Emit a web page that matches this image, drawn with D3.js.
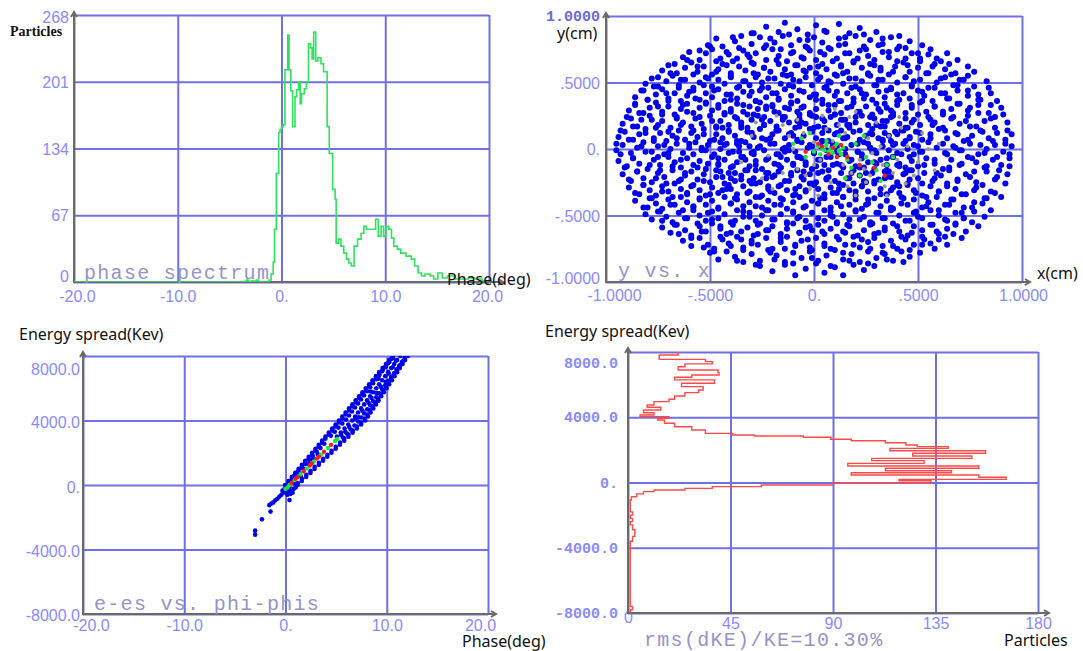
<!DOCTYPE html>
<html lang="en">
<head>
<meta charset="UTF-8">
<title>Beam plots</title>
<script src="https://d3js.org/d3.v7.min.js"></script>
<style>
  body { margin: 0; background: #fff; }
  svg { display: block; }
</style>
</head>
<body>
<svg width="1083" height="651"></svg>
<script>
// ---------- data ----------

// phase spectrum: [phase deg, particles]
const phaseSpectrum = [[-20,0],[-3.4,2],[-3.2,0],[-3.0,1],[-2.4,2],[-2.2,0],[-1.2,2],[-1.0,8],[-0.8,20],[-0.67,53],
  [-0.5,109],[-0.27,150],[-0.15,153],[0,156],[0.17,158],[0.33,213],[0.6,248],[0.73,213],[0.9,192],[1.07,156],
  [1.3,186],[1.45,193],[1.65,201],[1.8,179],[1.93,189],[2.2,194],[2.4,201],[2.6,239],[2.8,235],[2.95,224],
  [3.1,251],[3.3,222],[3.5,225],[3.8,219],[4.05,211],[4.4,156],[4.6,129],[4.93,93],[5.17,83],[5.27,39],
  [5.5,43],[5.73,36],[6.0,29],[6.27,23],[6.5,19],[6.73,16],[7.0,36],[7.33,43],[7.67,49],[7.93,56],
  [8.17,53],[8.5,53],[8.83,53],[9.07,63],[9.33,46],[9.6,56],[9.83,46],[10.07,56],[10.33,53],[10.6,44],
  [10.83,36],[11.17,33],[11.5,29],[12.0,26],[12.5,23],[12.83,16],[13.17,9],[13.5,6],[13.83,8],[14.33,6],
  [14.67,3],[15.07,9],[15.5,4],[16.0,6],[16.67,3],[17.33,3],[18.0,4],[18.67,3],[19.33,1],[20,0]];

// y vs x particles, flat x,y pairs in 1/100 cm
const yxBlue = [
  -29,87,-23,92,-17,88,-14,95,-8,90,-3,86,1,93,5,89,12,94,17,87,22,91,30,88,
  -51,78,-47,83,-44,77,-38,81,-35,85,-30,79,-26,84,-24,76,-19,80,-15,85,-11,78,-7,82,-4,77,0,84,4,80,7,76,12,83,15,79,20,85,24,77,27,82,33,79,37,84,41,77,46,81,52,78,
  -63,69,-60,73,-55,67,-52,72,-49,75,-45,68,-41,71,-39,66,-34,74,-31,69,-28,72,-23,67,-20,75,-17,70,-13,66,-10,73,-6,69,-2,74,1,67,5,71,8,75,11,68,15,72,19,66,22,74,26,70,29,67,33,73,36,69,40,75,44,68,47,72,51,66,55,71,59,68,64,72,
  -73,59,-70,63,-66,57,-62,61,-59,65,-56,58,-53,62,-49,56,-46,60,-44,64,-40,57,-36,62,-33,59,-30,65,-27,56,-24,61,-21,58,-17,64,-14,60,-11,56,-8,63,-5,59,-2,61,1,57,4,64,6,60,10,56,13,62,16,58,19,65,23,61,26,57,29,63,32,59,36,56,39,62,43,65,46,58,50,61,54,57,58,64,63,60,68,57,74,62,
  -81,49,-78,53,-75,47,-71,51,-68,55,-65,48,-62,52,-58,46,-55,50,-52,54,-49,47,-46,52,-43,49,-40,55,-37,46,-34,51,-31,48,-28,54,-25,50,-22,46,-19,53,-16,49,-13,55,-10,47,-7,51,-4,54,-1,48,2,52,5,46,8,50,11,55,14,49,17,53,20,47,23,51,27,55,30,48,33,52,37,46,40,50,44,54,47,48,51,52,55,46,59,50,63,54,67,48,72,52,77,47,83,51,
  -86,39,-83,44,-80,37,-76,41,-73,45,-70,38,-67,42,-64,36,-61,40,-58,44,-55,37,-52,42,-49,39,-46,45,-43,36,-40,41,-37,38,-34,43,-31,40,-28,36,-26,44,-23,39,-20,42,-17,37,-14,45,-11,40,-8,36,-5,43,-2,39,1,41,4,37,7,44,10,40,13,36,16,42,19,38,22,45,25,41,28,37,31,43,34,39,37,45,40,36,43,42,46,38,50,44,53,40,57,36,61,42,65,38,69,44,74,40,79,37,85,42,
  -89,29,-86,33,-82,27,-79,31,-76,35,-73,28,-70,32,-67,26,-64,30,-61,34,-58,27,-55,31,-52,35,-49,29,-46,33,-43,26,-40,30,-37,34,-34,28,-31,32,-29,26,-26,35,-23,30,-20,33,-17,27,-14,31,-11,35,-8,28,-5,32,-2,26,1,30,4,34,7,29,10,33,13,27,16,31,19,35,22,28,25,32,28,26,31,30,34,34,37,29,40,33,44,27,47,31,51,35,54,28,58,32,62,26,66,30,70,34,74,29,79,33,84,27,90,31,
  -92,19,-88,23,-85,17,-83,22,-79,25,-75,18,-73,21,-69,16,-66,24,-63,20,-59,17,-57,23,-54,19,-50,25,-47,16,-45,21,-41,18,-38,24,-35,20,-32,16,-30,22,-27,25,-24,18,-21,21,-18,17,-15,24,-12,20,-9,16,-7,23,-4,19,-1,25,2,17,5,21,8,24,11,18,14,22,17,16,20,20,23,25,26,18,29,23,32,17,35,21,38,25,41,19,44,16,48,22,51,18,55,24,58,20,62,16,66,23,70,19,74,25,78,17,82,21,87,24,93,20,
  -94,9,-91,13,-87,7,-84,11,-81,15,-77,8,-74,12,-71,6,-68,10,-65,14,-62,7,-59,12,-56,9,-53,15,-50,6,-47,11,-44,8,-41,14,-38,10,-35,6,-32,13,-29,9,-26,15,-23,7,-20,11,-17,14,-14,8,-11,12,-8,6,-5,10,-2,15,1,8,4,12,7,6,10,11,13,14,16,9,19,13,22,7,25,10,28,15,31,8,34,12,37,6,40,11,43,14,46,9,49,13,52,7,56,11,60,15,64,8,68,12,72,6,76,10,80,14,84,8,88,12,92,7,95,11,
  -95,-1,-92,3,-88,-3,-85,1,-82,5,-78,-2,-75,2,-72,-4,-69,0,-66,4,-63,-3,-60,1,-57,5,-54,-1,-51,3,-48,-4,-45,0,-42,4,-39,-2,-36,2,-33,5,-30,-3,-27,1,-24,-1,-21,4,-18,-4,-15,0,-12,3,-9,-2,-6,5,-3,1,0,-3,3,2,6,-1,9,4,12,-4,15,0,18,3,21,-2,24,5,27,1,30,-3,33,2,36,-1,39,4,42,-4,45,0,48,3,51,-2,55,5,59,1,63,-3,67,2,71,-1,75,4,79,-4,83,0,87,3,91,-2,95,2,
  -94,-9,-90,-13,-87,-7,-84,-11,-80,-15,-77,-8,-74,-12,-70,-6,-67,-10,-64,-14,-61,-7,-58,-12,-55,-9,-52,-15,-49,-6,-46,-11,-43,-8,-40,-14,-37,-10,-34,-6,-31,-13,-28,-9,-25,-15,-22,-7,-19,-11,-16,-14,-13,-8,-10,-12,-7,-6,-4,-10,-1,-15,2,-8,5,-12,8,-6,11,-11,14,-14,17,-9,20,-13,23,-7,26,-10,29,-15,32,-8,35,-12,38,-6,41,-11,44,-14,47,-9,50,-13,54,-7,58,-11,62,-15,66,-8,70,-12,74,-6,78,-10,82,-14,86,-8,90,-12,94,-7,
  -92,-19,-89,-23,-85,-17,-82,-22,-78,-25,-75,-18,-72,-21,-68,-16,-65,-24,-62,-20,-59,-17,-56,-23,-53,-19,-50,-25,-47,-16,-44,-21,-41,-18,-38,-24,-35,-20,-32,-16,-29,-22,-26,-25,-23,-18,-20,-21,-17,-17,-14,-24,-11,-20,-8,-16,-5,-23,-2,-19,1,-25,4,-17,7,-21,10,-24,13,-18,16,-22,19,-16,22,-20,25,-25,28,-18,31,-23,34,-17,37,-21,40,-25,43,-19,46,-16,50,-22,53,-18,57,-24,61,-20,65,-16,69,-23,73,-19,78,-25,83,-17,88,-21,93,-19,
  -89,-29,-86,-33,-82,-27,-79,-31,-76,-35,-73,-28,-70,-32,-67,-26,-64,-30,-61,-34,-58,-27,-55,-31,-52,-35,-49,-29,-46,-33,-43,-26,-40,-30,-37,-34,-34,-28,-31,-32,-28,-26,-25,-35,-22,-30,-19,-33,-16,-27,-13,-31,-10,-35,-7,-28,-4,-32,-1,-26,2,-30,5,-34,8,-29,11,-33,14,-27,17,-31,20,-35,23,-28,26,-32,29,-26,32,-30,35,-34,38,-29,41,-33,45,-27,48,-31,52,-35,56,-28,60,-32,64,-26,68,-30,73,-34,78,-29,85,-32,
  -86,-39,-82,-44,-79,-37,-76,-41,-73,-45,-70,-38,-67,-42,-64,-36,-61,-40,-58,-44,-55,-37,-52,-42,-49,-39,-46,-45,-43,-36,-40,-41,-37,-38,-34,-43,-31,-40,-28,-36,-25,-44,-22,-39,-19,-42,-16,-37,-13,-45,-10,-40,-7,-36,-4,-43,-1,-39,2,-41,5,-37,8,-44,11,-40,14,-36,17,-42,20,-38,23,-45,26,-41,29,-37,32,-43,35,-39,38,-45,42,-36,45,-42,48,-38,52,-44,55,-40,59,-36,63,-42,67,-38,72,-44,77,-40,83,-37,
  -81,-49,-78,-53,-74,-47,-71,-51,-68,-55,-65,-48,-61,-52,-58,-46,-55,-50,-52,-54,-49,-47,-46,-52,-43,-49,-40,-55,-37,-46,-34,-51,-31,-48,-28,-54,-25,-50,-22,-46,-19,-53,-16,-49,-13,-55,-10,-47,-7,-51,-4,-54,-1,-48,2,-52,5,-46,8,-50,11,-55,14,-49,17,-53,20,-47,24,-51,27,-55,30,-48,34,-52,37,-46,41,-50,44,-54,48,-48,52,-52,56,-46,60,-50,64,-54,68,-48,72,-52,77,-47,82,-51,
  -73,-59,-69,-63,-66,-57,-62,-61,-59,-65,-55,-58,-52,-62,-49,-56,-45,-60,-42,-64,-39,-57,-35,-62,-32,-59,-29,-65,-26,-56,-23,-61,-20,-58,-16,-64,-13,-60,-10,-56,-7,-63,-4,-59,-1,-61,2,-57,5,-64,8,-60,11,-56,14,-62,17,-58,21,-65,24,-61,27,-57,31,-63,34,-59,38,-56,41,-62,45,-65,48,-58,52,-61,56,-57,60,-64,64,-60,68,-57,73,-62,
  -63,-69,-59,-73,-55,-67,-51,-72,-48,-75,-44,-68,-41,-71,-37,-66,-34,-74,-30,-69,-27,-72,-23,-67,-20,-75,-16,-70,-13,-66,-9,-73,-6,-69,-2,-74,1,-67,5,-71,8,-75,12,-68,15,-72,19,-66,22,-74,26,-70,29,-67,33,-73,37,-69,40,-75,44,-68,48,-72,52,-66,56,-71,60,-68,64,-72,
  -50,-78,-46,-83,-42,-77,-38,-81,-34,-85,-30,-79,-26,-84,-22,-76,-18,-80,-14,-85,-10,-78,-6,-82,-2,-77,2,-84,6,-80,10,-76,14,-83,18,-79,22,-85,26,-77,30,-82,34,-79,38,-84,42,-77,46,-81,51,-78,
  -26,-88,-20,-92,-14,-87,-9,-95,-4,-90,1,-86,5,-93,10,-89,14,-95,19,-87,24,-91,29,-88,
  -45,5,-38,-18,-30,12,-22,-28,-15,22,-8,-6,0,16,6,-22,14,8,22,-14,30,18,38,-6,45,-26,-40,28,-33,-8,-26,2,-19,-20,-12,30,-4,-12,4,6,12,-30,20,24,28,-2,36,10,44,-18,-42,-30,-35,18,-28,-16,-21,8,-14,-2,-6,20,2,-18,10,26,18,-8,26,4,34,-22,42,14,48,-4,-46,-12,-37,4,-24,24,-17,-12,-10,10,-2,-26,7,14,15,-4,24,-24,32,28,40,-12,47,20,-44,16,-31,-24,-18,14,-9,-30,-1,2,9,-12,17,18,25,-18,33,6,41,-28,-36,-2,-27,30,-16,-6,-7,26,3,-8,13,22,21,-2,29,-10,37,24,46,8,-40,-22,-29,-4,-20,32,-11,-18,1,24,11,2,19,-26,27,12,35,-16,43,4,
  -39,84,-30,87,-21,83,-12,86,-3,82,6,88,15,84,24,86,33,83,41,85,
  -55,74,-50,77,-42,73,-36,76,-32,71,-23,78,-16,75,-11,72,-3,76,3,73,12,78,17,72,25,75,31,78,36,73,44,76,50,72,56,75,
  -67,64,-61,67,-56,62,-47,66,-42,63,-37,68,-29,64,-24,61,-18,67,-9,63,-5,68,2,62,9,66,13,63,21,68,27,64,32,61,40,66,45,63,51,68,57,62,61,66,65,64,69,67,
  -75,54,-69,57,-64,52,-58,56,-51,53,-47,58,-40,54,-33,51,-29,57,-22,53,-15,56,-10,52,-4,58,3,54,7,51,14,57,20,53,26,56,31,52,38,58,44,54,48,51,55,57,61,53,66,56,70,52,74,55,77,58,
  -82,44,-77,47,-71,42,-65,46,-60,43,-53,48,-48,44,-42,41,-36,47,-30,43,-25,46,-18,42,-12,48,-7,44,0,41,6,47,11,43,18,46,23,42,29,48,35,44,40,41,47,47,52,43,58,46,63,42,69,48,74,44,79,41,84,46,
  -86,34,-80,37,-75,32,-70,36,-63,33,-57,38,-52,34,-46,31,-40,37,-34,33,-28,36,-23,32,-17,38,-11,34,-6,31,1,37,7,33,12,36,18,32,24,38,30,34,35,31,41,37,47,33,52,36,58,32,64,38,69,34,75,31,80,37,85,33,88,36,
  -90,24,-84,27,-78,22,-73,26,-66,23,-61,28,-55,24,-49,21,-43,27,-37,23,-32,26,-25,22,-19,28,-14,24,-8,21,-2,27,4,23,10,26,15,22,21,28,27,24,33,21,38,27,44,23,50,26,56,22,62,28,67,24,73,21,79,27,85,23,91,26,
  -93,14,-87,17,-81,12,-76,16,-70,13,-64,18,-58,14,-53,11,-47,17,-41,13,-35,16,-30,12,-24,18,-18,14,-12,11,-7,17,-1,13,5,16,11,12,16,18,22,14,28,11,34,17,39,13,45,16,51,12,57,18,63,14,69,11,75,17,81,13,87,16,93,14,
  -95,4,-89,7,-83,2,-77,6,-72,3,-66,8,-60,4,-54,1,-48,7,-43,3,-37,6,-31,2,-25,8,-19,4,-14,1,-8,7,-2,3,4,6,9,2,15,8,21,4,27,1,33,7,38,3,44,6,50,2,56,8,62,4,68,1,74,7,80,3,86,6,92,4,
  -93,-4,-87,-7,-81,-2,-75,-6,-70,-3,-64,-8,-58,-4,-52,-1,-46,-7,-41,-3,-35,-6,-29,-2,-23,-8,-17,-4,-12,-1,-6,-7,0,-3,6,-6,11,-2,17,-8,23,-4,29,-1,35,-7,40,-3,46,-6,52,-2,58,-8,64,-4,70,-1,76,-7,82,-3,88,-6,94,-4,
  -91,-14,-85,-17,-79,-12,-74,-16,-68,-13,-62,-18,-56,-14,-51,-11,-45,-17,-39,-13,-33,-16,-28,-12,-22,-18,-16,-14,-10,-11,-5,-17,1,-13,7,-16,13,-12,18,-18,24,-14,30,-11,36,-17,41,-13,47,-16,53,-12,59,-18,65,-14,71,-11,77,-17,83,-13,89,-16,94,-13,
  -88,-24,-82,-27,-76,-22,-71,-26,-64,-23,-59,-28,-53,-24,-47,-21,-41,-27,-35,-23,-30,-26,-23,-22,-17,-28,-12,-24,-6,-21,0,-27,6,-23,12,-26,17,-22,23,-28,29,-24,35,-21,40,-27,46,-23,52,-26,58,-22,64,-28,69,-24,75,-21,81,-27,87,-23,92,-26,
  -84,-34,-78,-37,-73,-32,-68,-36,-61,-33,-55,-38,-50,-34,-44,-31,-38,-37,-32,-33,-26,-36,-21,-32,-15,-38,-9,-34,-4,-31,3,-37,9,-33,14,-36,20,-32,26,-38,32,-34,37,-31,43,-37,49,-33,54,-36,60,-32,66,-38,71,-34,77,-31,82,-37,87,-33,90,-36,
  -80,-44,-75,-47,-69,-42,-63,-46,-58,-43,-51,-48,-46,-44,-40,-41,-34,-47,-28,-43,-23,-46,-16,-42,-10,-48,-5,-44,2,-41,8,-47,13,-43,20,-46,25,-42,31,-48,37,-44,42,-41,49,-47,54,-43,60,-46,65,-42,71,-48,76,-44,81,-41,85,-46,
  -73,-54,-67,-57,-62,-52,-56,-56,-49,-53,-45,-58,-38,-54,-31,-51,-27,-57,-20,-53,-13,-56,-8,-52,-2,-58,5,-54,9,-51,16,-57,22,-53,28,-56,33,-52,40,-58,46,-54,50,-51,57,-57,63,-53,68,-56,72,-52,76,-55,79,-58,
  -65,-64,-59,-67,-54,-62,-45,-66,-40,-63,-35,-68,-27,-64,-22,-61,-16,-67,-7,-63,-3,-68,4,-62,11,-66,15,-63,23,-68,29,-64,34,-61,42,-66,47,-63,53,-68,59,-62,63,-66,67,-64,71,-67,
  -53,-74,-48,-77,-40,-73,-34,-76,-30,-71,-21,-78,-14,-75,-9,-72,-1,-76,5,-73,14,-78,19,-72,27,-75,33,-78,38,-73,46,-76,52,-72,58,-75,
  -37,-84,-28,-87,-19,-83,-10,-86,-1,-82,8,-88,17,-84,26,-86,35,-83,43,-85
];
const yxGray = [-30,10,-22,-5,-15,18,-8,-15,0,5,8,-25,15,12,22,-8,30,20,38,-18,45,2,-25,-22,-18,25,-10,0,-2,-30,6,15,14,-12,20,28,28,-3,36,10,44,-26,50,-10,-35,-10,-28,20,-20,-30,-12,10,-4,-20,4,25,12,-2,18,-18,26,8,34,-28,42,16,48,-20,55,0,-5,12,3,-8,10,30,16,-28,24,-15,32,2,40,-8,52,12,58,-16,-15,-18,-8,22,0,-12,9,6,17,24,25,-25,33,-12,41,24,60,4,2,-35,20,-35,35,-35,12,18,27,-20];
const yxGreen = [2,2,5,-1,6,3,8,0,9,-3,10,2,12,-1,7,-2,4,0,11,4,3,-4,14,1,13,-4,6,6,0,-2,-6,8,-4,-6,16,-8,20,4,18,-14,25,-6,28,-10,30,-16,22,-20,-10,4,24,10,35,-12,38,-6,15,-22,32,-24,12,10,-2,12];
const yxRed = [4,2,9,1,7,-4,13,3,-4,-2,22,-12,29,-14,34,-20,2,4,16,-6,11,-6];

// e-es vs phi-phis: [phase deg, keV]
const epBlue = [
  [-0.04,0],[0.30,250],[0.62,500],[0.96,750],[1.29,1000],[1.62,1250],[1.95,1500],[2.29,1750],[2.62,2000],[2.96,2250],[3.28,2500],[3.62,2750],[3.95,3000],[4.28,3250],[4.61,3500],[4.95,3750],[5.28,4000],[5.61,4250],[5.94,4500],[6.27,4750],[6.61,5000],[6.93,5250],[7.27,5500],[7.60,5750],[7.93,6000],[8.26,6250],[8.59,6500],[8.93,6750],[9.25,7000],[9.59,7250],[9.92,7500],[10.25,7750],[10.58,8000],
  [0.29,125],[0.62,375],[0.95,625],[1.29,875],[1.62,1125],[1.95,1375],[2.28,1625],[2.62,1875],[2.95,2125],[3.28,2375],[3.61,2625],[3.94,2875],[4.28,3125],[4.61,3375],[4.94,3625],[5.28,3875],[5.61,4125],[5.94,4375],[6.27,4625],[6.60,4875],[6.94,5125],[7.27,5375],[7.60,5625],[7.94,5875],[8.27,6125],[8.60,6375],[8.93,6625],[9.27,6875],[9.60,7125],[9.93,7375],[10.26,7625],[10.60,7875],
  [1.20,0],[1.61,250],[2.04,500],[2.46,750],[2.87,1000],[3.29,1250],[3.71,1500],[4.13,1750],[4.54,2000],[4.96,2250],[5.38,2500],[5.80,2750],[6.21,3000],[6.63,3250],[7.05,3500],[7.47,3750],[7.88,4000],[8.15,4250],[8.40,4500],[8.67,4750],[8.93,5000],[9.19,5250],[9.45,5500],[9.72,5750],[9.99,6000],[10.24,6250],[10.51,6500],[10.77,6750],[11.03,7000],[11.29,7250],[11.56,7500],[11.81,7750],[12.08,8000],
  [1.21,125],[1.63,375],[2.05,625],[2.47,875],[2.88,1125],[3.30,1375],[3.72,1625],[4.14,1875],[4.55,2125],[4.97,2375],[5.39,2625],[5.80,2875],[6.22,3125],[6.64,3375],[7.06,3625],[7.48,3875],[7.81,4125],[8.08,4375],[8.34,4625],[8.60,4875],[8.86,5125],[9.12,5375],[9.38,5625],[9.65,5875],[9.92,6125],[10.18,6375],[10.44,6625],[10.70,6875],[10.96,7125],[11.22,7375],[11.49,7625],[11.75,7875],
  [5.08,3000],[5.46,3250],[5.83,3500],[6.2,3750],[6.58,4000],[6.88,4250],[7.17,4500],[7.47,4750],[7.77,5000],[8.06,5250],[8.36,5500],[8.66,5750],[8.96,6000],[9.25,6250],[9.55,6500],[9.85,6750],[10.14,7000],[10.44,7250],[10.74,7500],[11.03,7750],[11.33,8000],
  [4.48,3060],[4.86,3310],[5.23,3560],[5.61,3810],[5.98,4060],[6.28,4310],[6.57,4560],[6.87,4810],[7.17,5060],[7.46,5310],[7.76,5560],[8.06,5810],[8.36,6060],[8.65,6310],[8.95,6560],[9.25,6810],[9.54,7060],[9.84,7310],[10.14,7560],[10.43,7810],
  [5.68,2940],[6.06,3190],[6.43,3440],[6.81,3690],[7.18,3940],[7.48,4190],[7.77,4440],[8.07,4690],[8.37,4940],[8.66,5190],[8.96,5440],[9.26,5690],[9.56,5940],[9.85,6190],[10.15,6440],[10.45,6690],[10.74,6940],[11.04,7190],[11.34,7440],[11.63,7690],
  [5.5,3100],[6.9,4100],[7.2,4200],[7.6,4600],[8.2,5100],[8.5,5400],[8.4,5800],[9.0,5700],[9.4,6100],[9.2,6600],[9.9,6400],[10.2,6900],[10.6,7300],[10.9,7700],[6.3,3600],[5.9,3300],
  [0.6,200],[1.0,450],[1.4,700],[1.8,1000],[2.3,1300],[2.7,1600],[3.2,1900],[0.9,100],[1.5,550],
  [0.83,560],[1.58,1060],[2.33,1560],[3.08,2060],[3.83,2560],[1.2,800],[1.95,1300],[2.7,1800],[3.45,2300],
  [-1.6,-1250],[-1.4,-1150],[-1.2,-1080],[-1.0,-950],[-0.8,-850],[-0.6,-720],[-0.4,-600],[-0.2,-480],[0.0,-380],[0.2,-260],[0.4,-150],[-0.1,-250],[0.3,-420],[0.6,-380],[0.8,-250],[1.0,-150],[0.5,-550],[0.2,-600],[-0.3,-350],[0.7,-480],
  [-3.0,-2830],[-3.0,-3080],[-2.33,-2130],[-1.48,-1650],[0.39,-930],[9.12,5210]
];
const epGreen = [[0.0,-240],[0.4,0],[0.9,300],[1.5,670],[2.1,1030],[2.8,1460],[3.5,1880],[4.2,2300],[4.9,2730],[0.2,-150],[5.1,2850]];
const epRed = [[0.6,120],[1.2,490],[1.8,850],[2.4,1210],[3.1,1640],[3.8,2060],[4.5,2490],[1.0,380],[2.6,1330],[3.3,1760]];

// energy spectrum: [keV, particles]
const energySpectrum = [[-8000,1],[-7800,2],[-7600,1],[-7000,1],[-6500,1],[-6000,1],[-5500,1],[-5000,1],[-4500,1],[-4000,1],
  [-3600,2],[-3300,3],[-3100,3],[-2900,2],[-2600,1],[-2400,2],[-2200,1],[-2000,2],[-1800,1],[-1480,1],
  [-1070,1.5],[-870,3.8],[-700,6.8],[-560,11.4],[-460,25],[-360,37],[-250,58.5],[-150,90],[-50,133],[30,133],
  [110,119],[190,166],[320,154],[460,98],[600,142],[720,113],[870,154],[1010,96.5],[1170,130],[1340,107],
  [1480,151],[1620,125],[1790,157],[1950,115],[2090,140.6],[2200,127],[2300,122],[2440,113],[2560,98],[2650,89],
  [2770,77],[2850,55.5],[2910,46],[3010,34],[3220,28],[3420,20.5],[3630,16],[3830,13],[3930,18],[4040,5.3],
  [4140,11.4],[4280,6.8],[4440,14.4],[4610,8.4],[4750,11.4],[4960,18],[5100,20.5],[5300,25],[5510,31],[5670,33],
  [5880,23.5],[6080,38],[6290,20.5],[6450,28],[6590,40],[6740,39.5],[6900,22],[7100,25],[7270,37],[7410,34],
  [7550,13.7],[7820,22],[8020,17.5]];

// ticks
const phaseTicks = [-20, -10, 0, 10, 20];
const phaseLabels = ["-20.0", "-10.0", "0.", "10.0", "20.0"];
const countTicks = [0, 67, 134, 201, 268];
const countLabels = ["0", "67", "134", "201", "268"];
const cmTicks = [-1, -0.5, 0, 0.5, 1];
const cmLabels = ["-1.0000", "-.5000", "0.", ".5000", "1.0000"];
const keTicks = [-8000, -4000, 0, 4000, 8000];
const keLabels = ["-8000.0", "-4000.0", "0.", "4000.0", "8000.0"];
const partTicks = [0, 45, 90, 135, 180];
const partLabels = ["0", "45", "90", "135", "180"];

// ---------- drawing ----------
const svg = d3.select("svg");
const GRID = "#7070e6", AXIS = "#6a6a6a", TICK = "#8a8aff", NOTE = "#9494c8";
const SANS = "16px 'Liberation Sans', Arial, sans-serif";
const MONO = "bold 15px 'Liberation Mono', monospace";
const TITLE = "16px 'Noto Sans', sans-serif";
const NOTE_FONT = "20px 'Liberation Mono', monospace";

const pairs = a => d3.range(0, a.length, 2).map(i => [a[i] / 100, a[i + 1] / 100]);

function panel(box, xDom, yDom, id) {
  const x = d3.scaleLinear().domain(xDom).range([box.x0, box.x1]);
  const y = d3.scaleLinear().domain(yDom).range([box.y1, box.y0]);
  svg.append("clipPath").attr("id", id).append("rect")
    .attr("x", box.x0).attr("y", box.y0)
    .attr("width", box.x1 - box.x0).attr("height", box.y1 - box.y0);
  return { box, x, y, clip: `url(#${id})` };
}

function frame(p, o) {
  const { box, x, y } = p;
  const g = svg.append("g");
  // grid
  g.append("g").attr("transform", `translate(0,${box.y1})`)
    .call(d3.axisBottom(x).tickValues(o.xt).tickSize(-(box.y1 - box.y0)).tickFormat(""))
    .call(a => a.select(".domain").remove())
    .selectAll("line").attr("stroke", GRID).attr("stroke-width", 2);
  g.append("g").attr("transform", `translate(${box.x0},0)`)
    .call(d3.axisLeft(y).tickValues(o.yt).tickSize(-(box.x1 - box.x0)).tickFormat(""))
    .call(a => a.select(".domain").remove())
    .selectAll("line").attr("stroke", GRID).attr("stroke-width", 2);

  // tick labels
  const last = o.yt.length - 1;
  const ya = g.append("g").attr("transform", `translate(${box.x0},0)`)
    .call(d3.axisLeft(y).tickValues(o.yt).tickSize(0).tickPadding(o.yPad).tickFormat((d, i) => o.yl[i]));
  ya.select(".domain").remove();
  ya.selectAll("text")
    .attr("dy", (d, i) => 5.5 + (i === 0 ? o.yBot : i === last ? o.yTop : (o.yMid || 0)))
    .attr("fill", TICK).style("font", o.yFont);
  if (o.yTopFont) {
    ya.selectAll("text").filter((d, i) => i === last)
      .attr("fill", o.yTopFill).style("font", o.yTopFont);
  }

  const xl = o.xt.length - 1;
  const xa = g.append("g").attr("transform", `translate(0,${box.y1})`)
    .call(d3.axisBottom(x).tickValues(o.xt).tickSize(0).tickFormat((d, i) => o.xl[i]));
  xa.select(".domain").remove();
  xa.selectAll("text")
    .attr("y", (d, i) => o.xDy + (i === 0 ? (o.xFirstDy || 0) : 0)).attr("dy", "0.35em")
    .attr("dx", (d, i) => i === 0 ? o.xFirst : i === xl ? o.xLast : 0)
    .attr("fill", TICK).style("font", o.xFont || SANS);

  // axes with arrows
  const top = box.y0 - o.up, tip = box.x1 + o.right;
  const ax = svg.append("g").attr("fill", "none").attr("stroke", AXIS).attr("stroke-width", 2);
  ax.append("path").attr("d", `M${box.x0},${box.y1 + 1}V${top}`);
  ax.append("path").attr("d", `M${box.x0 - 3},${top + 5}L${box.x0},${top}L${box.x0 + 3},${top + 5}`);
  ax.append("path").attr("d", `M${box.x0 - 1},${box.y1}H${tip}`);
  ax.append("path").attr("d", `M${tip - 5},${box.y1 - 3}L${tip},${box.y1}L${tip - 5},${box.y1 + 3}`);
  return g;
}

function text(str, x, y, font, fill, spacing) {
  svg.append("text").attr("x", x).attr("y", y).attr("fill", fill)
    .attr("letter-spacing", spacing || 0).style("font", font).text(str);
}
const note = (str, x, y) => text(str, x, y, NOTE_FONT, NOTE, 1.3);

// panel 1: phase spectrum
const p1 = panel({ x0: 74, x1: 489, y0: 15, y1: 282 }, [-20, 20], [0, 268], "c1");
frame(p1, { xt: phaseTicks, xl: phaseLabels, yt: countTicks, yl: countLabels, yFont: SANS,
  yPad: 5, yTop: 2, yBot: -6, xDy: 14, xFirst: 3, xLast: -2, up: 3, right: 14 });
note("phase spectrum", 84, 279);
svg.append("path").datum(phaseSpectrum)
  .attr("clip-path", p1.clip)
  .attr("fill", "none").attr("stroke", "#2fe35f").attr("stroke-width", 1.6)
  .attr("d", d3.line().x(d => p1.x(d[0])).y(d => p1.y(d[1])).curve(d3.curveStepAfter));
text("Particles", 10, 36, "bold 14px 'Liberation Serif', serif", "#111");
text("Phase(deg)", 447, 285, TITLE, "#111");

// panel 2: y vs x
const p2 = panel({ x0: 606, x1: 1022, y0: 16, y1: 282 }, [-1, 1], [-1, 1], "c2");
frame(p2, { xt: cmTicks, xl: cmLabels, yt: cmTicks, yl: cmLabels, yFont: SANS,
  yPad: 6, yTop: -1, yBot: -4, xDy: 13, xFirst: 8, xLast: 1, up: 3, right: 8,
  yTopFont: "bold 15px 'Liberation Mono', monospace", yTopFill: "#6a6ad8" });
note("y vs. x", 618, 277);
const dots2 = svg.append("g").attr("clip-path", p2.clip);
[[yxBlue, "#0000ee", 3.0], [yxGray, "#9a9a90", 2], [yxGreen, "#18e83a", 2.2], [yxRed, "#f02020", 2.2]]
  .forEach(([arr, col, r]) => {
    dots2.append("g").selectAll("circle").data(pairs(arr)).join("circle")
      .attr("cx", d => p2.x(d[0])).attr("cy", d => p2.y(d[1])).attr("r", r).attr("fill", col);
  });
text("y(cm)", 557, 39, TITLE, "#111");
text("x(cm)", 1037, 279, TITLE, "#111");

// panel 3: e-es vs phi-phis
const p3 = panel({ x0: 83, x1: 488, y0: 356, y1: 614 }, [-20, 20], [-8000, 8000], "c3");
frame(p3, { xt: phaseTicks, xl: phaseLabels, yt: keTicks, yl: keLabels, yFont: SANS,
  yPad: 3, yTop: 13, yBot: 1, yMid: 1.5, xDy: 11, xFirst: 8, xLast: -8, up: 4, right: 8 });
note("e-es vs. phi-phis", 94, 610);
const dots3 = svg.append("g").attr("clip-path", p3.clip);
[[epBlue, "#0000e8", 2.3], [epGreen, "#18e83a", 2.2], [epRed, "#f02020", 2.2]]
  .forEach(([arr, col, r]) => {
    dots3.append("g").selectAll("circle").data(arr).join("circle")
      .attr("cx", d => p3.x(d[0])).attr("cy", d => p3.y(d[1])).attr("r", r).attr("fill", col);
  });
text("Energy spread(Kev)", 19, 340, TITLE, "#111");
text("Phase(deg)", 462, 647, TITLE, "#111");

// panel 4: energy spectrum
const p4 = panel({ x0: 628, x1: 1038, y0: 352, y1: 613 }, [0, 180], [-8000, 8000], "c4");
frame(p4, { xt: partTicks, xl: partLabels, yt: keTicks, yl: keLabels, yFont: MONO,
  yPad: 10, yTop: 10, yBot: -1, yMid: -1, xDy: 10, xFirst: 0, xFirstDy: -6, xLast: 0, up: 4, right: 11 });
note("rms(dKE)/KE=10.30%", 644, 646);
svg.append("path").datum(energySpectrum)
  .attr("clip-path", p4.clip)
  .attr("fill", "none").attr("stroke", "#ff4a4a").attr("stroke-width", 1.4)
  .attr("d", d3.line().x(d => p4.x(d[1])).y(d => p4.y(d[0])).curve(d3.curveStepBefore));
text("Energy spread(Kev)", 545, 337, TITLE, "#111");
text("Particles", 1004, 646, TITLE, "#111");
</script>
</body>
</html>
